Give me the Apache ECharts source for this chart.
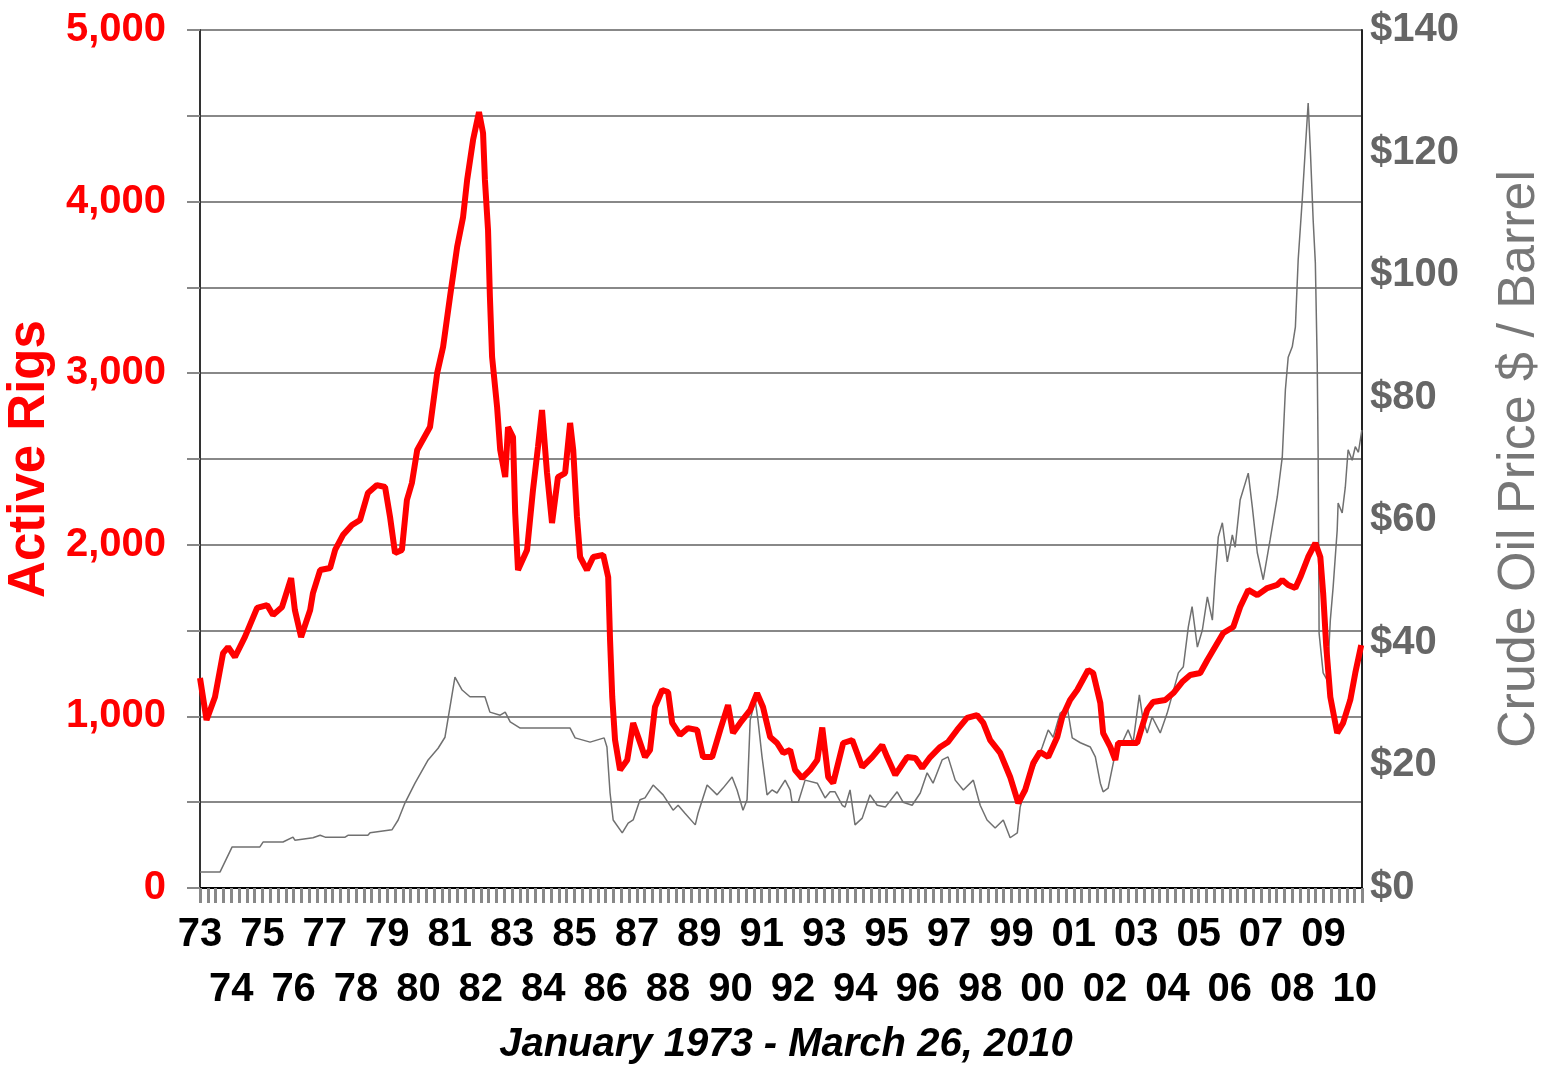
<!DOCTYPE html>
<html>
<head>
<meta charset="utf-8">
<script src="https://cdn.jsdelivr.net/npm/echarts@6/dist/echarts.min.js"></script>
<style>
html,body{margin:0;padding:0;background:#fff;}
#chart{width:1554px;height:1070px;}
</style>
</head>
<body>
<div id="chart"></div>
<script>
// Active rig count (decimal year, rigs)
const rigYears = [1973.00,1973.21,1973.48,1973.74,1973.90,1974.12,1974.44,1974.83,1975.15,1975.34,1975.63,1975.92,1976.04,1976.24,1976.53,1976.62,1976.85,1977.17,1977.33,1977.58,1977.87,1978.13,1978.38,1978.67,1978.93,1979.09,1979.25,1979.47,1979.63,1979.79,1979.96,1980.37,1980.60,1980.79,1981.01,1981.24,1981.43,1981.56,1981.75,1981.94,1982.07,1982.13,1982.23,1982.29,1982.36,1982.52,1982.62,1982.78,1982.87,1983.03,1983.10,1983.19,1983.48,1983.67,1983.83,1983.96,1984.12,1984.28,1984.47,1984.70,1984.86,1984.96,1985.08,1985.18,1985.40,1985.60,1985.92,1986.08,1986.14,1986.21,1986.30,1986.46,1986.69,1986.88,1987.04,1987.26,1987.42,1987.58,1987.81,1988.00,1988.13,1988.38,1988.64,1988.93,1989.12,1989.41,1989.67,1989.92,1990.08,1990.31,1990.63,1990.85,1991.04,1991.27,1991.49,1991.69,1991.91,1992.07,1992.29,1992.55,1992.78,1992.94,1993.13,1993.29,1993.61,1993.90,1994.22,1994.54,1994.86,1995.02,1995.28,1995.66,1995.92,1996.14,1996.40,1996.72,1996.97,1997.26,1997.58,1997.90,1998.10,1998.32,1998.64,1998.96,1999.22,1999.44,1999.70,1999.92,2000.18,2000.47,2000.63,2000.88,2001.11,2001.46,2001.62,2001.85,2001.94,2002.17,2002.33,2002.42,2002.71,2003.03,2003.35,2003.54,2003.93,2004.19,2004.47,2004.73,2005.05,2005.28,2005.53,2005.79,2006.11,2006.33,2006.59,2006.88,2007.20,2007.52,2007.68,2007.87,2008.10,2008.26,2008.51,2008.74,2008.90,2008.99,2009.09,2009.22,2009.44,2009.63,2009.86,2010.02,2010.21];
const rigCounts = [1224,979,1113,1369,1404,1346,1463,1632,1649,1591,1638,1806,1620,1463,1620,1719,1853,1865,1970,2057,2115,2145,2302,2348,2337,2162,1952,1970,2261,2360,2552,2686,3001,3153,3444,3736,3910,4126,4359,4522,4400,4126,3834,3444,3094,2803,2552,2395,2686,2628,2185,1853,1970,2319,2570,2785,2418,2127,2395,2418,2710,2552,2162,1929,1853,1929,1941,1812,1445,1113,862,688,746,962,880,763,804,1055,1154,1142,962,892,932,921,763,763,921,1066,903,962,1037,1136,1055,880,845,787,804,688,641,688,746,935,647,612,845,862,705,763,833,763,659,763,758,699,763,822,851,921,991,1008,962,862,787,647,495,571,728,793,763,880,997,1096,1154,1270,1253,1078,903,822,746,845,845,845,1037,1084,1096,1136,1200,1241,1253,1329,1406,1486,1521,1638,1737,1707,1748,1766,1795,1766,1748,1812,1929,2010,1929,1719,1406,1113,903,962,1096,1253,1416];

// Crude oil price (decimal year, $/barrel)
const oilYears = [1973.00,1973.64,1974.03,1974.92,1975.02,1975.66,1975.98,1976.04,1976.62,1976.85,1977.01,1977.65,1977.74,1978.38,1978.45,1979.15,1979.35,1979.57,1979.89,1980.31,1980.63,1980.85,1981.17,1981.40,1981.65,1982.13,1982.29,1982.62,1982.78,1982.94,1983.26,1984.86,1985.02,1985.50,1985.95,1986.04,1986.14,1986.24,1986.53,1986.72,1986.88,1987.10,1987.26,1987.52,1987.84,1988.16,1988.32,1988.54,1988.87,1988.96,1989.25,1989.57,1989.76,1990.05,1990.21,1990.40,1990.53,1990.63,1990.79,1990.88,1991.01,1991.17,1991.33,1991.49,1991.75,1991.91,1991.97,1992.17,1992.39,1992.78,1993.03,1993.19,1993.35,1993.58,1993.67,1993.83,1993.99,1994.22,1994.47,1994.70,1994.96,1995.34,1995.53,1995.82,1996.08,1996.30,1996.49,1996.78,1996.97,1997.20,1997.46,1997.78,1998.00,1998.22,1998.48,1998.74,1998.96,1999.19,1999.28,1999.54,1999.83,1999.99,2000.18,2000.34,2000.56,2000.79,2000.95,2001.21,2001.53,2001.69,2001.85,2001.94,2002.10,2002.33,2002.55,2002.74,2002.90,2003.10,2003.22,2003.35,2003.51,2003.77,2003.99,2004.35,2004.51,2004.67,2004.79,2004.96,2005.12,2005.28,2005.44,2005.53,2005.63,2005.76,2005.92,2006.08,2006.17,2006.33,2006.59,2006.72,2006.88,2007.07,2007.29,2007.52,2007.68,2007.78,2007.87,2008.00,2008.10,2008.19,2008.32,2008.42,2008.51,2008.58,2008.67,2008.74,2008.80,2008.83,2008.86,2008.99,2009.12,2009.22,2009.31,2009.44,2009.47,2009.60,2009.70,2009.79,2009.92,2010.02,2010.12,2010.23];
const oilPrices = [2.6,2.6,6.7,6.7,7.5,7.5,8.3,7.8,8.2,8.6,8.3,8.3,8.6,8.6,9.0,9.5,11.1,13.9,17.1,20.9,22.8,24.6,34.4,32.3,31.2,31.2,28.7,28.2,28.7,27.1,26.1,26.1,24.5,23.8,24.5,23.0,15.5,11.1,9.0,10.6,11.1,14.4,14.7,16.8,15.2,12.7,13.5,12.2,10.3,12.2,16.8,15.2,16.3,18.1,16.0,12.7,14.4,27.4,30.7,27.4,21.4,15.2,16.0,15.5,17.6,16.0,14.0,14.0,17.6,17.1,14.7,15.7,15.7,13.5,13.2,16.0,10.3,11.4,15.2,13.5,13.2,15.7,14.0,13.5,15.5,18.8,17.1,20.9,21.4,17.6,16.0,17.6,13.5,11.1,9.8,11.1,8.2,9.0,13.2,17.6,20.9,23.0,25.8,24.6,28.5,29.5,24.5,23.7,23.0,21.4,17.1,15.7,16.3,22.0,23.7,25.8,23.7,31.5,27.4,25.3,27.9,25.3,28.5,35.1,36.1,42.6,45.9,39.3,42.1,47.5,43.7,50.7,57.3,59.6,53.2,57.6,55.6,63.3,67.7,62.2,54.7,50.3,56.8,63.8,70.3,81.3,86.6,88.3,91.5,102.5,112.3,120.7,128.1,120.4,109.0,102.0,85.7,70.3,41.6,35.1,33.9,43.7,49.1,58.4,62.8,61.2,65.4,71.5,69.8,72.0,71.1,74.7];

const xStart = 1973, xEnd = 2010.235;
const rigMax = 5000, rigStep = 500;
const oilMax = 140, oilStep = 20;
const subtitle = 'January 1973 - March 26, 2010';

const NARROW = "'Liberation Sans Narrow','Arial Narrow','Liberation Sans',Arial,sans-serif";
const SANS = "'Liberation Sans',Arial,sans-serif";

function yearLabel(parity){
  return function(v){
    if (Math.abs(v-Math.round(v))>1e-6) return '';
    const y = Math.round(v);
    if (Math.abs(y%2) !== parity) return '';
    return String(y%100).padStart(2,'0');
  };
}
const labelStyle = {fontFamily:NARROW, fontSize:40, fontWeight:'bold', color:'#000',
  showMinLabel:true, showMaxLabel:false, hideOverlap:false};

const chart = echarts.init(document.getElementById('chart'), null, {renderer:'canvas'});
chart.setOption({
  animation:false,
  backgroundColor:'#ffffff',
  title:{
    text:subtitle, left:781, textAlign:'center', top:1020,
    textStyle:{fontFamily:NARROW, fontSize:40, fontWeight:'bold', fontStyle:'italic', color:'#000'}
  },
  grid:{left:200, right:192, top:30, bottom:182, show:false, containLabel:false, outerBoundsMode:'none'},
  xAxis:[{
    type:'value', min:xStart, max:xEnd, interval:1, position:'bottom',
    axisLine:{show:true, onZero:false, lineStyle:{color:'#000', width:2}},
    axisTick:{show:true, length:15, lineStyle:{color:'#888', width:3}},
    minorTick:{show:true, splitNumber:4, length:15, lineStyle:{color:'#888', width:3}},
    splitLine:{show:false},
    axisLabel:Object.assign({margin:27, formatter:yearLabel(1)}, labelStyle)
  },{
    type:'value', min:xStart, max:xEnd, interval:1, position:'bottom',
    axisLine:{show:false, onZero:false}, axisTick:{show:false}, splitLine:{show:false},
    axisLabel:Object.assign({margin:82, formatter:yearLabel(0)}, labelStyle)
  }],
  yAxis:[{
    type:'value', min:0, max:rigMax, interval:rigStep, position:'left',
    name:'Active Rigs', nameLocation:'middle', nameGap:145, nameRotate:90,
    nameTextStyle:{fontFamily:SANS, fontSize:51, fontWeight:'bold', color:'#ff0000'},
    axisLine:{show:true, lineStyle:{color:'#333', width:2}},
    axisTick:{show:true, length:13, lineStyle:{color:'#888', width:2}},
    splitLine:{show:true, lineStyle:{color:'#888', width:2}},
    axisLabel:{
      margin:34, fontFamily:NARROW, fontSize:40, fontWeight:'bold', color:'#ff0000',
      formatter:function(v){ return v%1000===0 ? v.toLocaleString('en-US') : ''; }
    }
  },{
    type:'value', min:0, max:oilMax, interval:oilStep, position:'right',
    name:'Crude Oil Price $ / Barrel', nameLocation:'middle', nameGap:132, nameRotate:90,
    nameTextStyle:{fontFamily:SANS, fontSize:52, color:'#777'},
    axisLine:{show:true, lineStyle:{color:'#222', width:2}},
    axisTick:{show:false},
    splitLine:{show:false},
    axisLabel:{
      margin:8, fontFamily:NARROW, fontSize:40, fontWeight:'bold', color:'#666',
      formatter:function(v){ return '$'+v; }
    }
  }],
  series:[{
    type:'line', name:'Crude Oil Price', xAxisIndex:0, yAxisIndex:1, showSymbol:false,
    data:oilYears.map((t,i)=>[t,oilPrices[i]]),
    lineStyle:{color:'#707070', width:1.5}, z:2
  },{
    type:'line', name:'Active Rigs', xAxisIndex:0, yAxisIndex:0, showSymbol:false,
    data:rigYears.map((t,i)=>[t,rigCounts[i]]),
    lineStyle:{color:'#ff0000', width:6}, z:3
  }]
});
</script>
</body>
</html>
